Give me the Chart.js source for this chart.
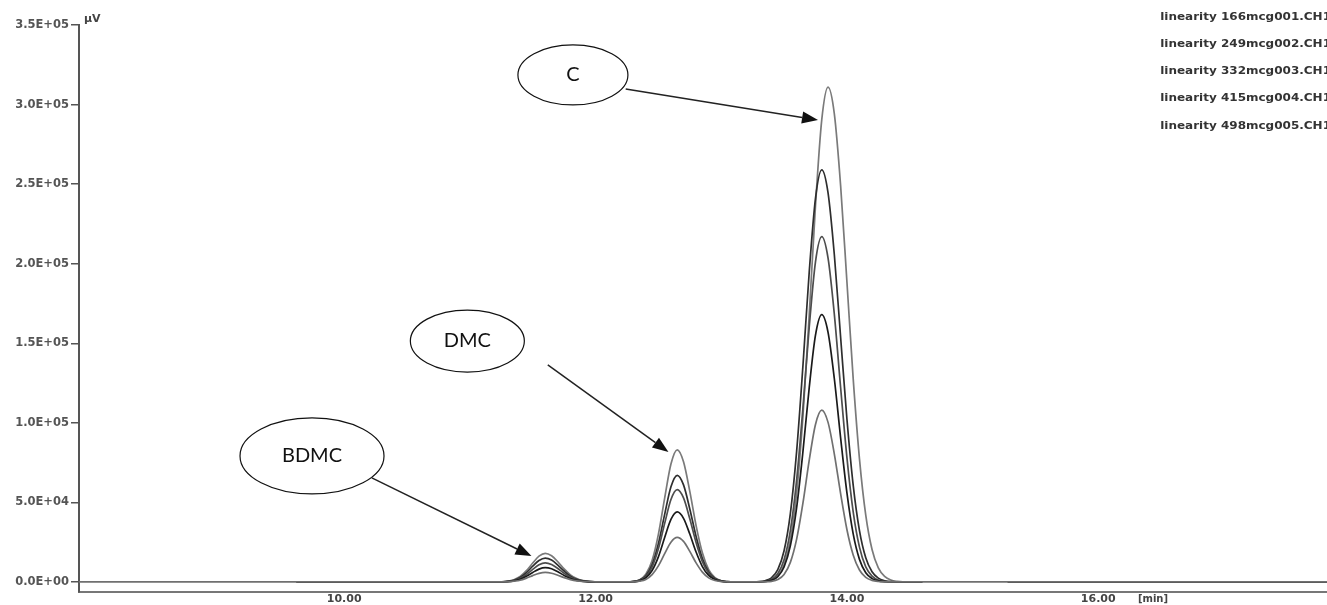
<!DOCTYPE html>
<html>
<head>
<meta charset="utf-8">
<script src="https://cdn.jsdelivr.net/npm/chart.js@4.4.1/dist/chart.umd.min.js"></script>
<style>
  html, body { margin: 0; padding: 0; background: #fff; }
  .chart__body { position: relative; width: 1327px; height: 605px; }
</style>
</head>
<body>
<div class="chart__body"><canvas id="myChart"></canvas></div>
<script>
// Время удерживания, мин
const times = [
  7.89, 9.62, 11.0,
  // BDMC
  11.2, 11.25, 11.3, 11.35, 11.4, 11.45, 11.5, 11.55, 11.6, 11.65, 11.7, 11.75, 11.8, 11.85, 11.9, 12.0, 12.1,
  // DMC
  12.2, 12.25, 12.3, 12.35, 12.4, 12.45, 12.5, 12.55, 12.6, 12.65, 12.7, 12.75, 12.8, 12.85, 12.9, 12.95, 13.0, 13.05, 13.1,
  // C
  13.2, 13.3, 13.35, 13.4, 13.45, 13.5, 13.55, 13.6, 13.65, 13.7, 13.75, 13.8, 13.85, 13.9, 13.95, 14.0, 14.05, 14.1, 14.15,
  14.2, 14.25, 14.3, 14.35, 14.4, 14.5, 14.6,
  14.9, 15.28, 17.82,
];

// Сигнал, µV
const lin166 = [
  0, 0, 0,
  0, 0, 100, 500, 1100, 2400, 4000, 5400, 6000, 5500, 4200, 2700, 1500, 700, 300, 0, 0,
  0, 0, 100, 500, 1600, 4600, 10100, 17800, 25000, 28000, 25500, 19200, 12000, 6200, 2600, 900, 300, 100, 0,
  0, 0, 100, 400, 1500, 4700, 12300, 26900, 49500, 76400, 99000, 108000, 100300, 80400, 55500, 33000, 17000, 7500, 2900,
  1000, 300, 100, 0, 0, 0, 0,
  0, 0, 0,
];
const lin249 = [
  null, 0, 0,
  0, 100, 200, 700, 1700, 3600, 6000, 8100, 9000, 8300, 6400, 4100, 2200, 1000, 400, 0, 0,
  0, 0, 200, 700, 2600, 7200, 15800, 27900, 39300, 44000, 40000, 30100, 18800, 9700, 4100, 1500, 400, 100, 0,
  0, 100, 300, 1000, 3300, 9400, 22700, 46700, 81800, 122000, 155100, 168000, 156900, 127700, 90600, 56100, 30200, 14200, 5800,
  2100, 700, 200, 0, 0, 0, 0,
  null, 0, 0,
];
const lin332 = [
  null, 0, 0,
  0, 100, 300, 900, 2300, 4700, 7900, 10800, 12000, 11000, 8500, 5500, 3000, 1400, 500, 0, 0,
  0, 0, 200, 1000, 3400, 9500, 20900, 36800, 51800, 58000, 52800, 39700, 24800, 12800, 5500, 1900, 600, 100, 0,
  0, 100, 500, 1600, 5200, 13900, 32300, 64000, 109200, 159900, 201200, 217000, 203500, 168200, 122200, 78300, 44100, 21900, 9500,
  3700, 1200, 400, 100, 0, 0, 0,
  null, 0, 0,
];
const lin415 = [
  null, 0, 0,
  0, 100, 400, 1100, 2900, 5900, 9900, 13500, 15000, 13800, 10600, 6900, 3700, 1700, 700, 100, 0,
  0, 0, 300, 1100, 3900, 10900, 24100, 42500, 59800, 67000, 61000, 45900, 28600, 14700, 6300, 2200, 700, 200, 0,
  0, 200, 800, 2600, 7700, 19600, 43000, 82100, 135700, 194500, 241100, 259000, 244500, 205600, 153800, 102600, 60900, 32300, 15200,
  6400, 2400, 800, 200, 100, 0, 0,
  null, 0, 0,
];
const lin498 = [
  null, 0, 0,
  0, 100, 400, 1400, 3400, 7100, 11900, 16200, 18000, 16500, 12700, 8200, 4500, 2100, 800, 100, 0,
  0, 100, 300, 1400, 4900, 13500, 29900, 52700, 74100, 83000, 75500, 56900, 35400, 18300, 7800, 2800, 800, 200, 0,
  0, 100, 300, 1200, 3900, 10800, 26300, 56000, 103900, 167600, 236400, 290500, 311000, 294200, 249100, 188800, 127800, 77400, 42000,
  20400, 8900, 3500, 1200, 400, 0, 0,
  null, 0, 0,
];

const fileNames = [
  "linearity 166mcg001.CH1",
  "linearity 249mcg002.CH1",
  "linearity 332mcg003.CH1",
  "linearity 415mcg004.CH1",
  "linearity 498mcg005.CH1",
];
const xTicks = [10, 12, 14, 16];
const yTicks = [0, 50000, 100000, 150000, 200000, 250000, 300000, 350000];

const series = [lin166, lin249, lin332, lin415, lin498];
const colors = ["#707070", "#1a1a1a", "#4d4d4d", "#2e2e2e", "#7a7a7a"];

// подписи пиков: центр эллипса и стрелка (в координатах данных)
const callouts = [
  { text: "BDMC", at: [9.744, 79200], rx: 72, ry: 38, from: [10.22, 65400], to: [11.49, 16300] },
  { text: "DMC", at: [10.98, 151400], rx: 57, ry: 31, from: [11.62, 136400], to: [12.58, 81700] },
  { text: "C", at: [11.82, 318600], rx: 55, ry: 30, from: [12.24, 309800], to: [13.77, 290300] },
];

function sci(v) {
  if (v === 0) return "0.0E+00";
  const e = Math.floor(Math.log10(Math.abs(v)) + 1e-9);
  const m = v / Math.pow(10, e);
  return m.toFixed(1) + "E" + (e < 0 ? "-" : "+") + String(Math.abs(e)).padStart(2, "0");
}

const overlay = {
  id: "overlay",
  afterDraw(chart) {
    const { ctx } = chart;
    const xs = chart.scales.x;
    const ys = chart.scales.y;
    ctx.save();
    ctx.fillStyle = "#444";
    ctx.font = "bold 11px 'DejaVu Sans'";
    ctx.textBaseline = "middle";
    ctx.textAlign = "left";
    ctx.fillText("µV", 84, 19);
    ctx.font = "bold 10px 'DejaVu Sans'";
    ctx.textAlign = "center";
    ctx.fillText("[min]", 1153, 599);

    // легенда справа сверху
    chart.data.datasets.forEach(function (ds, i) {
      ctx.save();
      ctx.translate(1331, 17 + i * 27.3);
      ctx.scale(1.2, 1);
      ctx.textAlign = "right";
      ctx.fillStyle = "#333";
      ctx.fillText(ds.label, 0, 0);
      ctx.restore();
    });

    // эллипсы и стрелки
    callouts.forEach(function (c) {
      const cx = xs.getPixelForValue(c.at[0]);
      const cy = ys.getPixelForValue(c.at[1]);
      ctx.beginPath();
      ctx.ellipse(cx, cy, c.rx, c.ry, 0, 0, Math.PI * 2);
      ctx.fillStyle = "#fff";
      ctx.fill();
      ctx.lineWidth = 1.2;
      ctx.strokeStyle = "#111";
      ctx.stroke();
      ctx.fillStyle = "#111";
      ctx.font = "20px Lato";
      ctx.textAlign = "center";
      ctx.textBaseline = "middle";
      ctx.fillText(c.text, cx, cy);

      const x1 = xs.getPixelForValue(c.from[0]), y1 = ys.getPixelForValue(c.from[1]);
      const x2 = xs.getPixelForValue(c.to[0]), y2 = ys.getPixelForValue(c.to[1]);
      const a = Math.atan2(y2 - y1, x2 - x1);
      const hl = 16, hw = 6;
      ctx.beginPath();
      ctx.moveTo(x1, y1);
      ctx.lineTo(x2 - hl * Math.cos(a), y2 - hl * Math.sin(a));
      ctx.lineWidth = 1.5;
      ctx.strokeStyle = "#222";
      ctx.stroke();
      ctx.beginPath();
      ctx.moveTo(x2, y2);
      ctx.lineTo(x2 - hl * Math.cos(a) + hw * Math.sin(a), y2 - hl * Math.sin(a) - hw * Math.cos(a));
      ctx.lineTo(x2 - hl * Math.cos(a) - hw * Math.sin(a), y2 - hl * Math.sin(a) + hw * Math.cos(a));
      ctx.closePath();
      ctx.fillStyle = "#111";
      ctx.fill();
    });
    ctx.restore();
  },
};

const data = {
  datasets: series.map(function (vals, i) {
    return {
      label: fileNames[i],
      data: times.map(function (t, j) { return { x: t, y: vals[j] }; }),
      borderColor: colors[i],
      backgroundColor: colors[i],
      borderWidth: 1.7,
      pointRadius: 0,
      fill: false,
      spanGaps: false,
      cubicInterpolationMode: "monotone",
    };
  }),
};

const config = {
  type: "line",
  data,
  options: {
    animation: false,
    responsive: true,
    maintainAspectRatio: false,
    layout: { padding: { top: 25, right: 0, left: 0, bottom: 0 } },
    plugins: {
      legend: { display: false },
      tooltip: { enabled: false },
    },
    scales: {
      x: {
        type: "linear",
        min: 7.89,
        max: 17.82,
        afterBuildTicks: function (scale) {
          scale.ticks = xTicks.map(function (v) { return { value: v }; });
        },
        afterFit: function (scale) { scale.height = 13; },
        ticks: {
          autoSkip: false,
          maxRotation: 0,
          padding: 1,
          color: "#444",
          font: { family: "DejaVu Sans", size: 11, weight: "bold" },
          callback: function (v) { return Number(v).toFixed(2); },
        },
        grid: { drawOnChartArea: false, drawTicks: false },
        border: { display: true, color: "#777", width: 2 },
      },
      y: {
        min: -6300,
        max: 350000,
        afterBuildTicks: function (scale) {
          scale.ticks = yTicks.map(function (v) { return { value: v }; });
        },
        afterFit: function (scale) { scale.width = 79; },
        ticks: {
          autoSkip: false,
          padding: 2,
          color: "#555",
          font: { family: "DejaVu Sans", size: 11.5, weight: "bold" },
          callback: function (v) { return sci(v); },
        },
        grid: { drawOnChartArea: false, drawTicks: true, tickLength: 8, color: "#555", lineWidth: 1.5 },
        border: { display: true, color: "#555", width: 2 },
      },
    },
  },
  plugins: [overlay],
};

const myChart = new Chart(document.getElementById("myChart"), config);
</script>
</body>
</html>
